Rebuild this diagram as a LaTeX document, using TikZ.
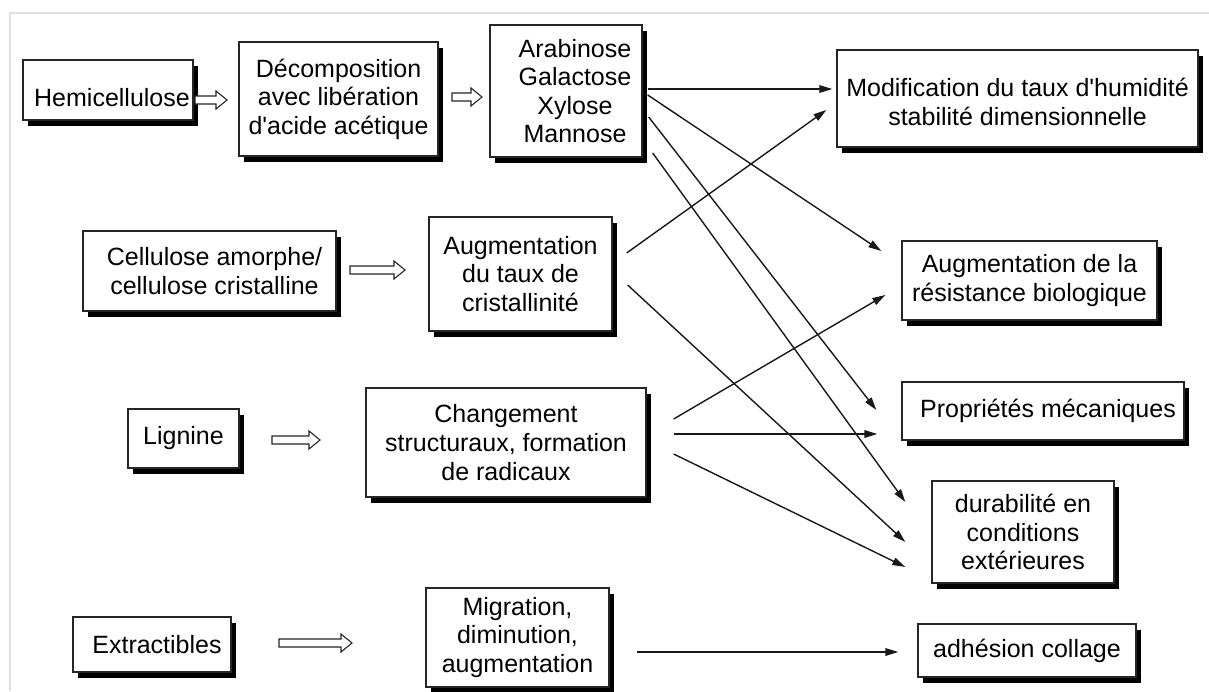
\documentclass[tikz,border=0pt]{standalone}
\usepackage{fontspec}
\setmainfont{Liberation Sans}
\usetikzlibrary{shadows,arrows.meta}
\tikzset{
  box/.style={draw=black!85, line width=0.65pt, fill=white, align=center, inner sep=0pt,
    font=\fontsize{12.5pt}{14.3pt}\selectfont,
    drop shadow={shadow xshift=2.5pt, shadow yshift=-3pt, fill=black, opacity=1}},
  conn/.style={line width=0.7pt, draw=black!90, -{Triangle[length=6.5pt, width=3.8pt]}},
  hollow/.style={draw=black!85, line width=0.55pt, fill=white, line join=miter},
  frame/.style={draw=black!12, line width=0.75pt}
}
\newcommand{\harrow}[3]{%
  \draw[hollow] (#1,{#3-4}) -- ({#2-11},{#3-4}) -- ({#2-11},{#3-9}) -- (#2,#3)
    -- ({#2-11},{#3+9}) -- ({#2-11},{#3+4}) -- (#1,{#3+4}) -- cycle;}
\begin{document}
\begin{tikzpicture}[x=0.5pt, y=-0.5pt]
\useasboundingbox (0,0) rectangle (1209,691);
\fill[white] (0,0) rectangle (1209,691);
\draw[frame] (10,691) -- (10,13) -- (1209,13);

% left / middle boxes
\node[box, minimum width=85pt, minimum height=30pt] (hemi) at (108,90)
  {\raisebox{-4pt}[\height][\depth]{\hspace*{4pt}Hemicellulose}};
\node[box, minimum width=99.5pt, minimum height=57pt] (decomp) at (338.5,99)
  {Décomposition\\avec libération\\d\textquotesingle acide acétique};
\node[box, minimum width=76pt, minimum height=66pt] (arab) at (566,91)
  {\hspace*{9pt}Arabinose\\\hspace*{9pt}Galactose\\\hspace*{9pt}Xylose\\\hspace*{9pt}Mannose};

\node[box, minimum width=126.5pt, minimum height=40pt] (cell) at (209.5,271)
  {\hspace*{5pt}Cellulose amorphe/\\\hspace*{5pt}cellulose cristalline};
\node[box, minimum width=91.5pt, minimum height=57pt] (augc) at (520.5,274)
  {Augmentation\\du taux de\\cristallinité};

\node[box, minimum width=55.5pt, minimum height=29.5pt] (lign) at (183.5,438.5) {Lignine};
\node[box, minimum width=140pt, minimum height=54.5pt] (chg) at (506,442.5)
  {Changement\\structuraux, formation\\de radicaux};

\node[box, minimum width=79pt, minimum height=27.5pt] (extr) at (152,644.5)
  {\hspace*{5pt}Extractibles};
\node[box, minimum width=91.5pt, minimum height=49.5pt] (migr) at (517.5,637.5)
  {Migration,\\diminution,\\augmentation};

% right column
\node[box, minimum width=180.5pt, minimum height=48.5pt] (modif) at (1017.5,98.5)
  {\raisebox{-3.5pt}[\height][\depth]{\begin{tabular}{@{}c@{}}Modification du taux d\textquotesingle humidité\\stabilité dimensionnelle\end{tabular}}};
\node[box, minimum width=127.5pt, minimum height=39.5pt] (resist) at (1029.5,280.5)
  {Augmentation de la\\résistance biologique};
\node[box, minimum width=141pt, minimum height=29pt] (prop) at (1043,411)
  {\hspace*{5pt}Propriétés mécaniques};
\node[box, minimum width=91pt, minimum height=51pt] (dura) at (1023,532)
  {durabilité en\\conditions\\extérieures};
\node[box, minimum width=109pt, minimum height=26.5pt] (adh) at (1027,650.5)
  {adhésion collage};

% hollow arrows
\harrow{195}{227}{100}
\harrow{452}{482}{97}
\harrow{350}{405}{270}
\harrow{272}{320}{440}
\harrow{279}{352}{643}

% connectors
\draw[conn] ([shift={(5,-2)}]arab.east) -- ([shift={(-4,-9.5)}]modif.west);
\draw[conn] ([shift={(5,4)}]arab.east) -- ([shift={(-20,-29.5)}]resist.west);
\draw[conn] ([shift={(6,26)}]arab.east) -- ([shift={(-25,-1)}]prop.west);
\draw[conn] ([shift={(10,62)}]arab.east) -- ([shift={(-26,-30)}]dura.west);

\draw[conn] ([shift={(14,-21)}]augc.east) -- ([shift={(-10,11.5)}]modif.west);
\draw[conn] ([shift={(15,11)}]augc.east) -- ([shift={(-26,10)}]dura.west);

\draw[conn] ([shift={(27,-23.5)}]chg.east) -- ([shift={(-16,14.5)}]resist.west);
\draw[conn] ([shift={(27,-8.5)}]chg.east) -- ([shift={(-24,23)}]prop.west);
\draw[conn] ([shift={(27,11.5)}]chg.east) -- ([shift={(-26,35)}]dura.west);

\draw[conn] ([shift={(27,14.5)}]migr.east) -- ([shift={(-19,1.5)}]adh.west);
\end{tikzpicture}
\end{document}
